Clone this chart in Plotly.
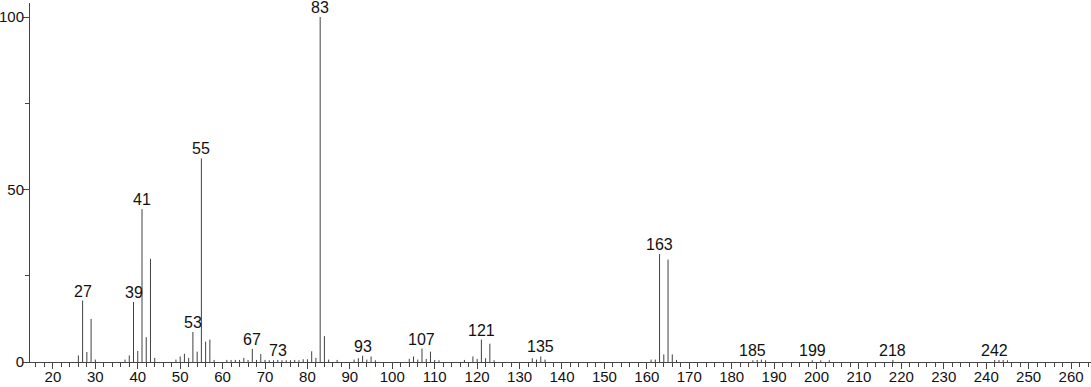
import plotly.graph_objects as go

mz = [26, 27, 28, 29, 30, 37, 38, 39, 40, 41, 42, 43, 44, 49, 50, 51, 52, 53, 54, 55, 56, 57, 58,
      61, 62, 63, 64, 65, 66, 67, 68, 69, 70, 71, 72, 73, 74, 75, 76, 77, 78, 79, 80, 81, 82, 83, 84,
      85, 87, 91, 92, 93, 94, 95, 96, 104, 105, 106, 107, 108, 109, 110, 111, 117, 119, 120, 121,
      122, 123, 124, 133, 134, 135, 136, 161, 162, 163, 164, 165, 166, 167, 185, 186, 187, 188,
      199, 201, 203, 218, 242, 243, 244, 245]
intensity = [1.9, 17.8, 2.9, 12.5, 0.7, 0.7, 1.9, 17.4, 3.2, 44.3, 7.2, 29.9, 1.2, 0.7, 1.6, 2.4,
             1.2, 8.7, 3.0, 59.0, 5.9, 6.5, 0.6,
             0.6, 0.6, 0.6, 0.6, 1.2, 0.6, 3.8, 0.6, 2.3, 0.6, 0.5, 0.5, 0.6, 0.5, 0.5, 0.5, 0.6,
             0.5, 0.8, 0.8, 3.1, 1.2, 100.0, 7.5,
             0.7, 0.6, 0.7, 1.1, 1.8, 0.7, 1.6, 0.5, 0.9, 1.6, 0.7, 3.9, 0.9, 3.0, 0.6, 0.5, 0.6,
             1.6, 0.9, 6.5,
             1.1, 5.3, 0.5, 1.1, 0.7, 1.6, 0.7, 0.7, 0.7, 31.3, 2.2, 29.7, 2.2, 0.6, 0.5, 0.6, 0.7,
             0.5,
             0.5, 0.5, 0.5, 0.6, 0.6, 0.6, 0.6, 0.5]
labeled = [27, 39, 41, 53, 55, 67, 73, 83, 93, 107, 121, 135, 163, 185, 199, 218, 242]

FONT = "Liberation Sans Narrow, Arial Narrow, Liberation Sans, Arial"

xs, ys = [], []
for m, v in zip(mz, intensity):
    xs += [m, m, None]
    ys += [0, v, None]

fig = go.Figure()
fig.add_trace(go.Scatter(x=xs, y=ys, mode="lines",
                         line=dict(color="#404040", width=1),
                         hoverinfo="skip", showlegend=False))

lookup = dict(zip(mz, intensity))
for m in labeled:
    fig.add_annotation(x=m, y=lookup[m], text=str(m), showarrow=False,
                       yanchor="bottom", xanchor="center", yshift=0, borderpad=0,
                       font=dict(family=FONT, size=16, color="#111"))

fig.update_layout(
    width=1091, height=387,
    margin=dict(l=30, r=0, t=3, b=25),
    paper_bgcolor="white", plot_bgcolor="white",
    font=dict(family=FONT, size=15, color="#111"),
    xaxis=dict(range=[14.6, 264.7], tickmode="linear", tick0=0, dtick=10, automargin=False,
               showgrid=False, zeroline=False, showline=True, linecolor="#444", linewidth=1,
               ticks="outside", ticklen=6, tickcolor="#444", ticklabelstandoff=-5,
               minor=dict(dtick=2, ticks="outside", ticklen=4, tickcolor="#444", showgrid=False)),
    yaxis=dict(range=[0, 104.06], tickmode="array", tickvals=[0, 50, 100], automargin=False,
               showgrid=False, zeroline=False, showline=True, linecolor="#444", linewidth=1,
               ticks="outside", ticklen=6, tickcolor="#444", ticklabelstandoff=-4,
               minor=dict(tickvals=[25, 75], ticks="outside", ticklen=4, tickcolor="#444",
                          showgrid=False)),
)

fig.write_html("out.html")
